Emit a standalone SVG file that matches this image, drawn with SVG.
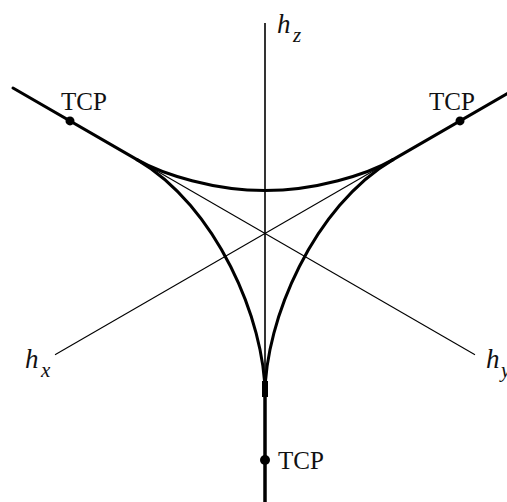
<svg xmlns="http://www.w3.org/2000/svg" width="507" height="502" viewBox="0 0 507 502">
  <style>
    .thin { stroke: #000; stroke-width: 1.1; fill: none; }
    .axis { stroke: #000; stroke-width: 1.6; fill: none; }
    .thick { stroke: #000; stroke-width: 3; fill: none; stroke-linecap: round; }
    .dot { fill: #000; }
    .tcp { font-family: "Liberation Serif", "Times New Roman", serif; font-size: 25px; fill: #111; }
    .hl { font-family: "Liberation Serif", "Times New Roman", serif; font-style: italic; fill: #111; }
    .h { font-size: 27px; }
    .sub { font-size: 21px; }
  </style>
  <rect width="507" height="502" fill="#fff"/>
  <g id="connectors">
    <!-- axes (thin inner parts) -->
    <line class="axis" x1="265" y1="23" x2="265" y2="398"/>
    <line class="thin" x1="55" y1="354.7" x2="393" y2="159.6"/>
    <line class="thin" x1="475" y1="354.7" x2="137" y2="159.6"/>
    <!-- thick outer parts -->
    <line class="thick" x1="13" y1="88" x2="137" y2="159.6"/>
    <line class="thick" x1="510" y1="92" x2="393" y2="159.6"/>
    <line x1="265" y1="396" x2="265" y2="502" stroke="#000" stroke-width="3.5"/>
    <line x1="265" y1="381" x2="265" y2="397" stroke="#000" stroke-width="6"/>
    <!-- curves -->
    <path class="thick" d="M137,159.6 C163,174.6 215,190.5 265,190.5 S367,174.6 393,159.6"/>
    <path class="thick" d="M137,159.6 C216,205.8 265,320 265,395"/>
    <path class="thick" d="M393,159.6 C314,205.8 265,320 265,395"/>
  </g>
  <g id="tcp-left">
    <circle class="dot" cx="70" cy="120.9" r="4.5"/>
    <text class="tcp" x="61" y="110">TCP</text>
  </g>
  <g id="tcp-right">
    <circle class="dot" cx="460" cy="120.9" r="4.5"/>
    <text class="tcp" x="429" y="110">TCP</text>
  </g>
  <g id="tcp-bottom">
    <circle class="dot" cx="265" cy="460" r="5"/>
    <text class="tcp" x="278" y="469">TCP</text>
  </g>
  <g id="label-hz">
    <text class="hl" x="277" y="33"><tspan class="h">h</tspan></text>
    <text class="hl sub" x="293" y="42">z</text>
  </g>
  <g id="label-hx">
    <text class="hl" x="25" y="368"><tspan class="h">h</tspan></text>
    <text class="hl sub" x="41" y="377">x</text>
  </g>
  <g id="label-hy">
    <text class="hl" x="486" y="368"><tspan class="h">h</tspan></text>
    <text class="hl sub" x="501" y="377">y</text>
  </g>
</svg>
